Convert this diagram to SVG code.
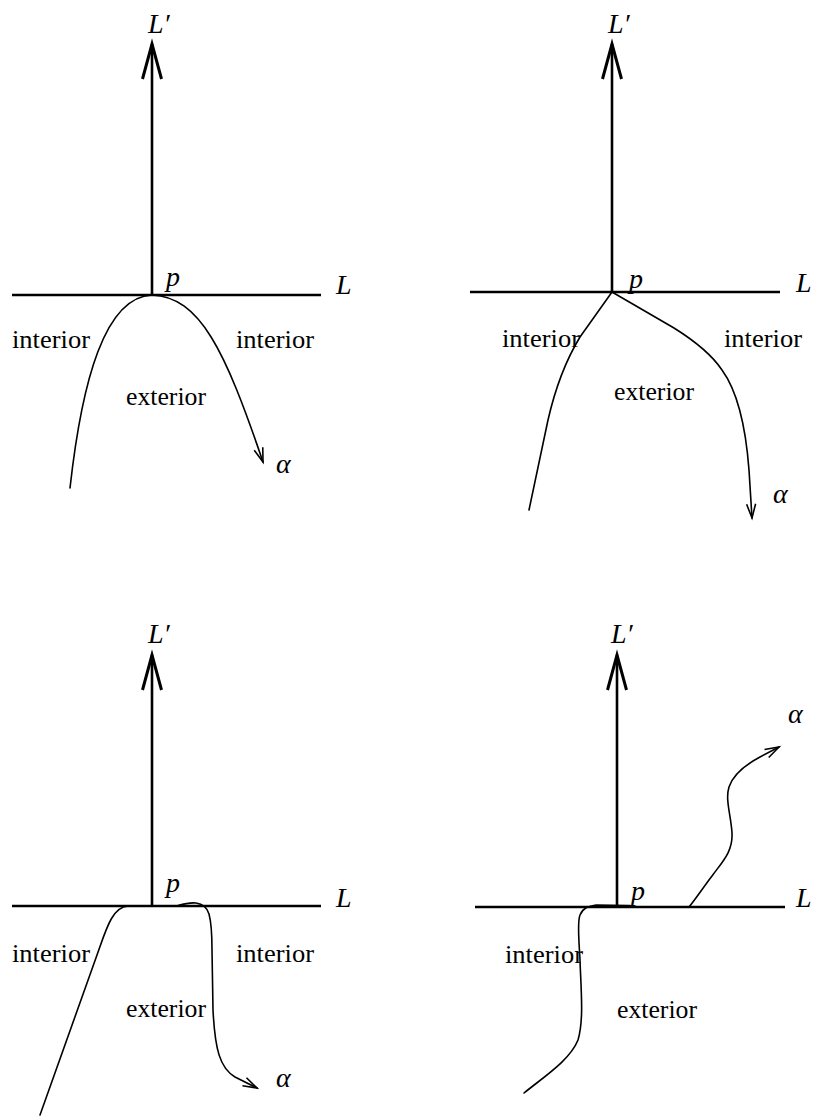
<svg xmlns="http://www.w3.org/2000/svg" width="817" height="1116" viewBox="0 0 817 1116">
<defs>
<style>
.axis{fill:none;stroke:#000;stroke-width:2.6;stroke-linecap:butt}
.curve{fill:none;stroke:#000;stroke-width:1.6;stroke-linejoin:round;stroke-linecap:round}
.math{font-family:"Liberation Serif","DejaVu Serif",serif;font-style:italic;font-size:28px;fill:#000}
.lbl{font-family:"Liberation Serif","DejaVu Serif",serif;font-size:25px;fill:#000}
</style>
<marker id="axhead" markerUnits="userSpaceOnUse" markerWidth="50" markerHeight="30" viewBox="-40 -15 50 30" refX="0" refY="0" orient="auto" overflow="visible">
<path d="M-35,-9.5 L0,0 L-35,9.5" fill="none" stroke="#000" stroke-width="3"/>
</marker>
<marker id="ahead" markerUnits="userSpaceOnUse" markerWidth="30" markerHeight="20" viewBox="-20 -10 30 20" refX="0" refY="0" orient="auto" overflow="visible">
<path d="M-14,-4.5 L0,0 L-14,4.5" fill="none" stroke="#000" stroke-width="1.6"/>
</marker>
</defs>
<rect width="817" height="1116" fill="#fff"/>

<g id="connectors">
<!-- Panel 1 -->
<line class="axis" x1="12" y1="295" x2="321" y2="295"/>
<line class="axis" x1="152" y1="295" x2="152" y2="44" marker-end="url(#axhead)"/>
<path class="curve" d="M70,488 C82,380 105,297 152,295 C200,297 225,350 263,462" marker-end="url(#ahead)"/>
<!-- Panel 2 -->
<line class="axis" x1="470" y1="292" x2="780" y2="292"/>
<line class="axis" x1="612" y1="292" x2="612" y2="44" marker-end="url(#axhead)"/>
<path class="curve" d="M529,510 L548,420 C556,385 566,360 580,337 L612,292 L674,328 C690,338 710,352 722,370 C738,392 746,430 749,470 L752,518" marker-end="url(#ahead)"/>
<!-- Panel 3 -->
<line class="axis" x1="12" y1="906" x2="321" y2="906"/>
<line class="axis" x1="152" y1="906" x2="152" y2="655" marker-end="url(#axhead)"/>
<path class="curve" d="M40,1115 L97,955 C106,930 112,907 128,906 L178,905.5 C185,903.5 191,902.5 196,903 C203,904 207,907 209,914 C212,925 212,935 212,950 L213,1010 C215,1050 220,1068 235,1077 L257,1088" marker-end="url(#ahead)"/>
<!-- Panel 4 -->
<line class="axis" x1="475" y1="907" x2="785" y2="907"/>
<line class="axis" x1="617" y1="907" x2="617" y2="655" marker-end="url(#axhead)"/>
<path class="curve" d="M524,1093 C545,1076 570,1060 578,1040 C584,1020 581,990 580,960 C579,940 577,922 580,915 C583,908 588,906 596,905 L630,905.5"/>
<path class="curve" d="M689,907 C695,900 705,885 712,876 C722,862 733,852 732,833 C731,815 725,800 729,787 C733,775 745,765 760,757 L779,747" marker-end="url(#ahead)"/>
</g>

<g id="panel1">
<text class="math" x="148" y="33">L′</text>
<text class="math" x="336" y="294">L</text>
<text class="math" x="166" y="286">p</text>
<text class="math" x="276" y="473">α</text>
<text class="lbl" x="12" y="348" textLength="78" lengthAdjust="spacingAndGlyphs">interior</text>
<text class="lbl" x="236" y="348" textLength="78" lengthAdjust="spacingAndGlyphs">interior</text>
<text class="lbl" x="126" y="405" textLength="80" lengthAdjust="spacingAndGlyphs">exterior</text>
</g>
<g id="panel2">
<text class="math" x="608" y="33">L′</text>
<text class="math" x="796" y="292">L</text>
<text class="math" x="629" y="288">p</text>
<text class="math" x="773" y="503">α</text>
<text class="lbl" x="502" y="347" textLength="78" lengthAdjust="spacingAndGlyphs">interior</text>
<text class="lbl" x="724" y="347" textLength="78" lengthAdjust="spacingAndGlyphs">interior</text>
<text class="lbl" x="614" y="400" textLength="80" lengthAdjust="spacingAndGlyphs">exterior</text>
</g>
<g id="panel3">
<text class="math" x="148" y="643">L′</text>
<text class="math" x="336" y="907">L</text>
<text class="math" x="166" y="892">p</text>
<text class="math" x="276" y="1087">α</text>
<text class="lbl" x="12" y="962" textLength="78" lengthAdjust="spacingAndGlyphs">interior</text>
<text class="lbl" x="236" y="962" textLength="78" lengthAdjust="spacingAndGlyphs">interior</text>
<text class="lbl" x="126" y="1017" textLength="80" lengthAdjust="spacingAndGlyphs">exterior</text>
</g>
<g id="panel4">
<text class="math" x="611" y="643">L′</text>
<text class="math" x="796" y="907">L</text>
<text class="math" x="631" y="900">p</text>
<text class="math" x="788" y="723">α</text>
<text class="lbl" x="505" y="963" textLength="78" lengthAdjust="spacingAndGlyphs">interior</text>
<text class="lbl" x="617" y="1018" textLength="80" lengthAdjust="spacingAndGlyphs">exterior</text>
</g>
</svg>
